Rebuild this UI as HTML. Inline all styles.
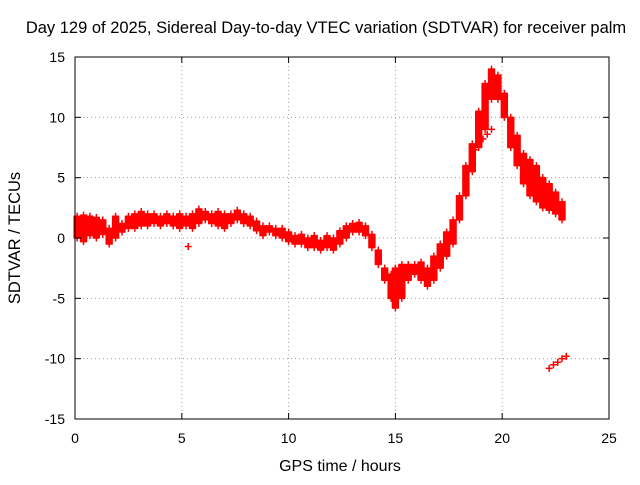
<!DOCTYPE html>
<html><head><meta charset="utf-8"><style>
body{margin:0;background:#fff;width:640px;height:480px;overflow:hidden}
svg{font-family:"Liberation Sans",sans-serif;font-size:14px}
</style></head><body>
<svg id="c" width="640" height="480">
<text x="326" y="33" text-anchor="middle" style="font-size:16.5px">Day 129 of 2025, Sidereal Day-to-day VTEC variation (SDTVAR) for receiver palm</text>
<text x="340" y="471" text-anchor="middle" style="font-size:16px">GPS time / hours</text>
<text transform="translate(20,238) rotate(-90)" text-anchor="middle" style="font-size:16.5px">SDTVAR / TECUs</text>
<g id="grid"></g><g id="marks"></g><g id="axes"></g>
</svg>
<script>
const bandT=[0.1,0.4,0.7,1.0,1.3,1.6,1.9,2.2,2.5,2.8,3.1,3.4,3.7,4.0,4.3,4.6,4.9,5.2,5.5,5.8,6.1,6.4,6.7,7.0,7.3,7.6,7.9,8.2,8.5,8.8,9.1,9.4,9.7,10.0,10.3,10.6,10.9,11.2,11.5,11.8,12.1,12.4,12.7,13.0,13.3,13.6,13.9,14.2,14.5,14.8,15.0,15.3,15.6,15.9,16.2,16.5,16.8,17.1,17.4,17.7,18.0,18.3,18.6,18.9,19.2,19.5,19.8,20.1,20.4,20.7,21.0,21.3,21.6,21.9,22.2,22.5,22.8];
const bandLo=[0,-0.3,0.2,0,0.3,-0.5,0,0.5,0.8,0.8,1.0,1.0,1.2,1.0,1.2,1.0,0.8,1.0,0.8,1.2,1.5,1.2,1.0,0.8,1.2,1.5,1.2,1.0,0.6,0.2,0.5,0.2,0,-0.3,-0.5,-0.5,-0.8,-0.8,-1.0,-0.8,-1.0,-0.5,0,0.5,0.5,0.2,-0.8,-2.2,-3.5,-5.0,-5.8,-5.0,-3.5,-3.0,-3.5,-4.0,-3.5,-2.5,-1.5,-0.5,1.5,3.5,5.5,7.5,9.0,11.5,11.5,10.0,7.5,6.0,4.5,3.5,3.0,2.5,2.3,2.0,1.5];
const bandHi=[1.8,1.9,1.8,1.7,1.5,0.8,1.8,1.2,1.8,2.0,2.2,2.0,2.0,1.8,2.0,1.8,2.0,1.8,2.0,2.4,2.2,2.0,2.2,2.0,2.0,2.3,2.0,1.8,1.4,1.0,1.0,0.8,0.8,0.5,0.2,0.3,0,0.2,-0.2,0.2,0,0.6,1.0,1.2,1.3,1.0,0.3,-1.0,-2.5,-3.0,-2.5,-2.2,-2.2,-2.2,-2.0,-2.5,-1.5,-0.5,0.5,1.5,3.5,6.0,7.8,10.5,12.8,14.0,13.5,12.0,10.0,8.5,7.0,6.5,6.0,5.0,4.5,3.8,3.0];
const extraT=[5.3,18.7,18.9,19.1,19.3,19.5,22.2,22.4,22.6,22.8,23.0];
const extraV=[-0.7,7.3,7.8,8.2,8.6,9.0,-10.8,-10.5,-10.3,-10.0,-9.8];
const xTicks=[0,5,10,15,20,25];
const yTicks=[-15,-10,-5,0,5,10,15];
const X0=75,X1=609,Y0=419,Y1=57;
const xs=v=>X0+(v-0)/(25)*(X1-X0);
const ys=v=>Y0-(v+15)/30*(Y0-Y1);
const NS='http://www.w3.org/2000/svg';
function mk(tag,attrs,parent){const e=document.createElementNS(NS,tag);for(const k in attrs)e.setAttribute(k,attrs[k]);parent.appendChild(e);return e;}
const grid=document.getElementById('grid'),marks=document.getElementById('marks'),axes=document.getElementById('axes');
xTicks.forEach(t=>{const x=xs(t);
 if(t>0&&t<25){const g=mk('line',{x1:x,x2:x,y1:Y0,y2:Y1,stroke:'#a0a0a0','stroke-dasharray':'1,3'},grid);}
 const l=mk('text',{x:x,y:Y0+24,'text-anchor':'middle'},axes);l.textContent=t;
 
 
 mk('line',{x1:x,x2:x,y1:Y0,y2:Y0-6,stroke:'#000'},axes);mk('line',{x1:x,x2:x,y1:Y1,y2:Y1+6,stroke:'#000'},axes);});
yTicks.forEach(t=>{const y=ys(t);
 if(t>-15&&t<15){const g=mk('line',{x1:X0,x2:X1,y1:y,y2:y,stroke:'#a0a0a0','stroke-dasharray':'1,3'},grid);}
 const l=mk('text',{x:X0-10,y:y+5,'text-anchor':'end'},axes);l.textContent=t;
 
 
 mk('line',{x1:X0,x2:X0+6,y1:y,y2:y,stroke:'#000'},axes);mk('line',{x1:X1,x2:X1-6,y1:y,y2:y,stroke:'#000'},axes);});
const b=mk('rect',{x:X0,y:Y1,width:X1-X0,height:Y0-Y1,fill:'none',stroke:'#000'},axes);

function plus(t,v){const x=xs(t),y=ys(v);const p=mk('path',{d:`M${x-3.5},${y}h7M${x},${y-3.5}v7`,stroke:'#f00','stroke-width':1.5},marks);
 
 }
const w=xs(0.3)-xs(0)+1;
bandT.forEach((t,i)=>{const y1=ys(bandHi[i]),y2=ys(bandLo[i]);
 const r=mk('rect',{x:xs(t)-w/2,y:y1,width:w,height:Math.max(1,y2-y1),fill:'#f00'},marks);
 
 
 plus(t,bandLo[i]);plus(t,bandHi[i]);});
extraT.forEach((t,i)=>plus(t,extraV[i]));
</script>
</body></html>
